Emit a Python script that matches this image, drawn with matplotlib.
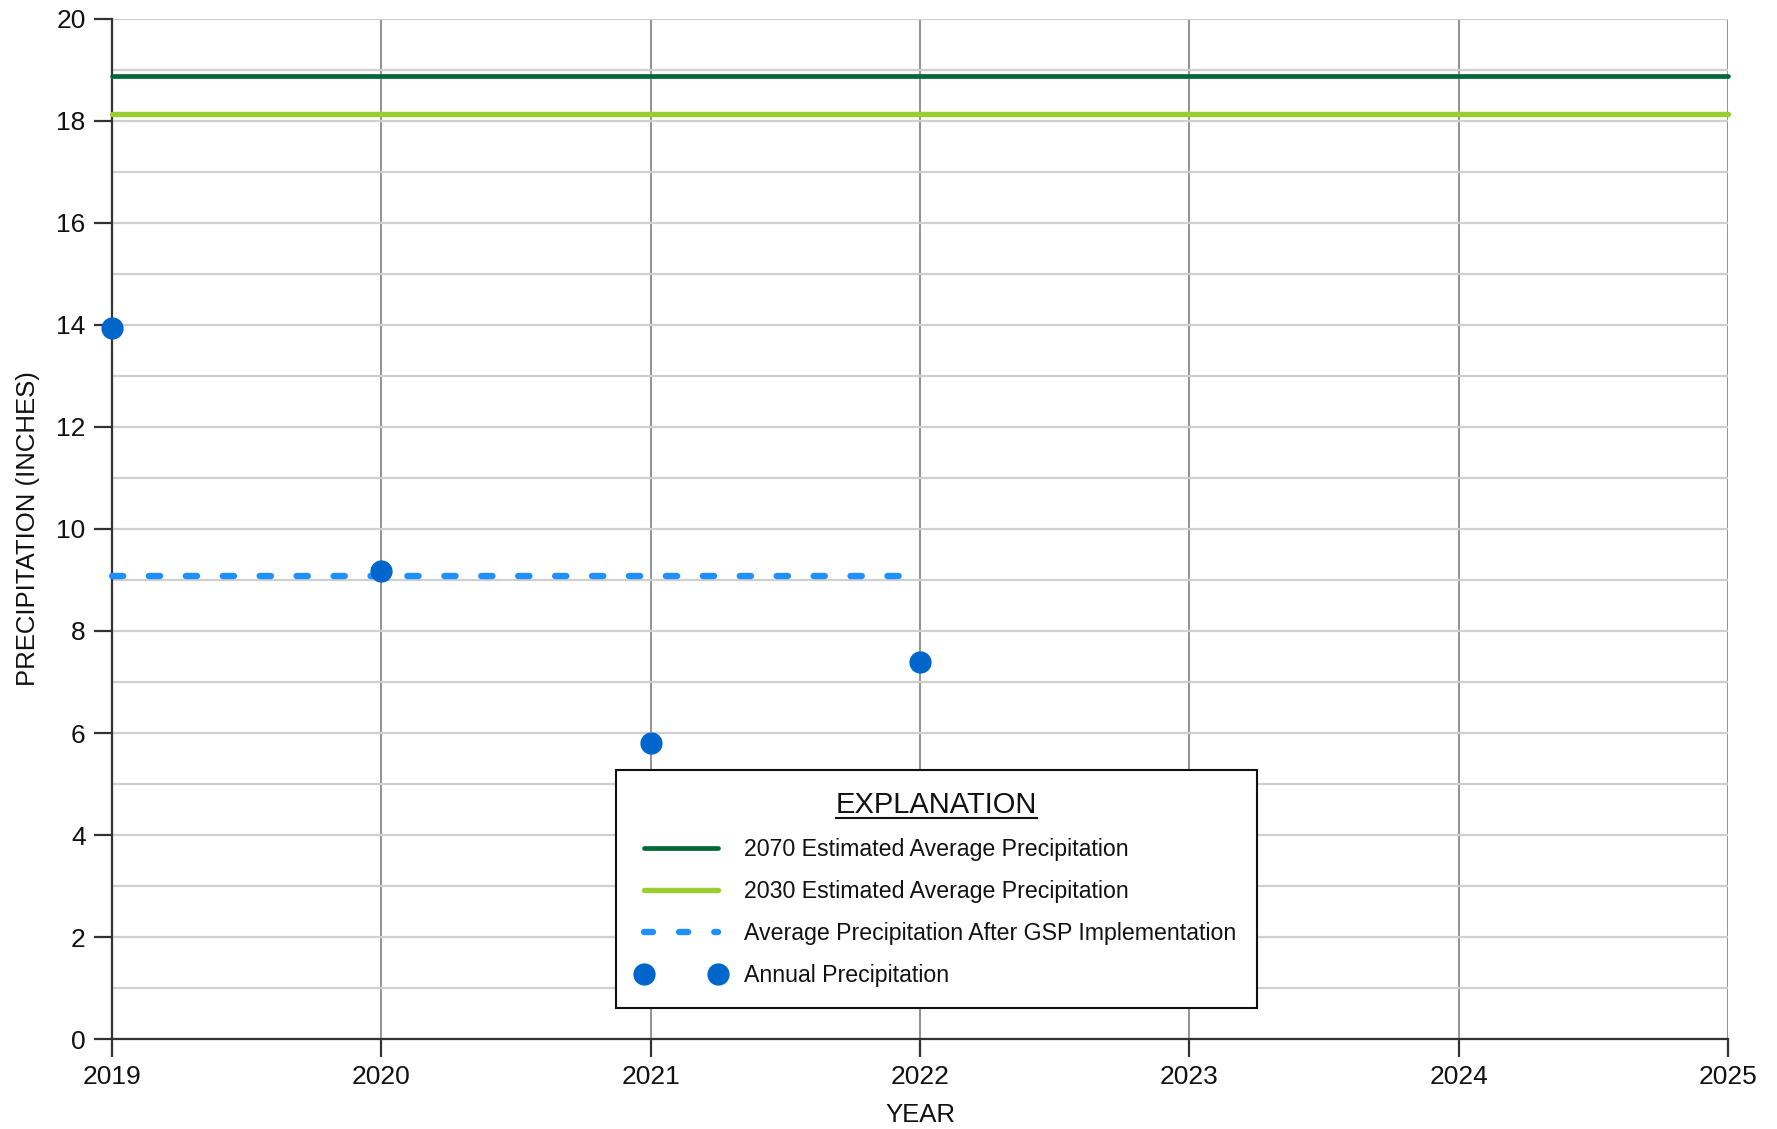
import matplotlib
matplotlib.use("Agg")
import matplotlib.pyplot as plt
from matplotlib.lines import Line2D

# values
years = [2019, 2020, 2021, 2022]
annual_precip = [13.95, 9.18, 5.8, 7.39]
span_years = [2019, 2025]
est_2070 = 18.88
est_2030 = 18.14
gsp_years = [2019, 2022]
gsp_avg = 9.08

plt.rcParams['font.family'] = ['Liberation Sans', 'DejaVu Sans']

fig = plt.figure(figsize=(17.77, 11.29), dpi=100)
ax = fig.add_axes([0.063, 0.0797, 0.9094, 0.9035])

ax.plot(span_years, [est_2070, est_2070], color="#006837", lw=3.4,
        solid_capstyle="round", clip_on=False, zorder=3,
        label="2070 Estimated Average Precipitation")
ax.plot(span_years, [est_2030, est_2030], color="#9acd32", lw=3.9,
        solid_capstyle="round", clip_on=False, zorder=3,
        label="2030 Estimated Average Precipitation")
ax.plot(gsp_years, [gsp_avg, gsp_avg], color="#1e90ff", lw=4.6,
        dashes=(1.75, 4.03), dash_capstyle="round", clip_on=False, zorder=3,
        label="Average Precipitation After GSP Implementation")
ax.plot(years, annual_precip, "o", color="#0066cc", markersize=15,
        clip_on=False, zorder=4, label="Annual Precipitation")

ax.set_xlim(2019, 2025)
ax.set_ylim(0, 20)
ax.set_xticks(range(2019, 2026))
ax.set_yticks(range(0, 21, 2))
ax.set_yticks(range(1, 20, 2), minor=True)

ax.grid(axis="x", which="major", color="#7f7f7f", lw=1.2)
ax.grid(axis="y", which="both", color="#cfcfcf", lw=1.6)
ax.set_axisbelow(True)

for s in ["top", "right"]:
    ax.spines[s].set_visible(False)
for s in ["left", "bottom"]:
    ax.spines[s].set_color("#333333")
    ax.spines[s].set_linewidth(1.6)

ax.tick_params(axis="both", which="major", length=13, width=1.6, color="#333333",
               labelsize=19, labelcolor="#111111", pad=6)
ax.tick_params(axis="y", which="minor", length=0)

ax.set_xlabel("YEAR", fontsize=18.5, color="#111111", labelpad=10)
ax.set_ylabel("PRECIPITATION (INCHES)", fontsize=18.5, color="#111111", labelpad=12)

leg = ax.legend(loc="lower left", bbox_to_anchor=(0.312, 0.0304),
                title="EXPLANATION", numpoints=2, frameon=True, fancybox=False,
                edgecolor="#111111", framealpha=1, handlelength=3.8,
                handletextpad=0.8, labelspacing=0.82, borderpad=0.9,
                borderaxespad=0, prop={'size': 16.7},
                title_fontproperties={'size': 21})
leg.get_frame().set_linewidth(1.5)
for t in leg.get_texts():
    t.set_color("#111111")
leg.get_title().set_color("#111111")
# three even dashes in the legend sample, like the original
leg.get_lines()[2].set_dashes((1.4, 4.1))

# underline the legend title
fig.canvas.draw()
bb = leg.get_title().get_window_extent()
uy = bb.y0 + 1
fig.add_artist(Line2D([bb.x0, bb.x1], [uy, uy], transform=None,
                      color="#111111", lw=1.5))

fig.savefig("out.png", dpi=100)
